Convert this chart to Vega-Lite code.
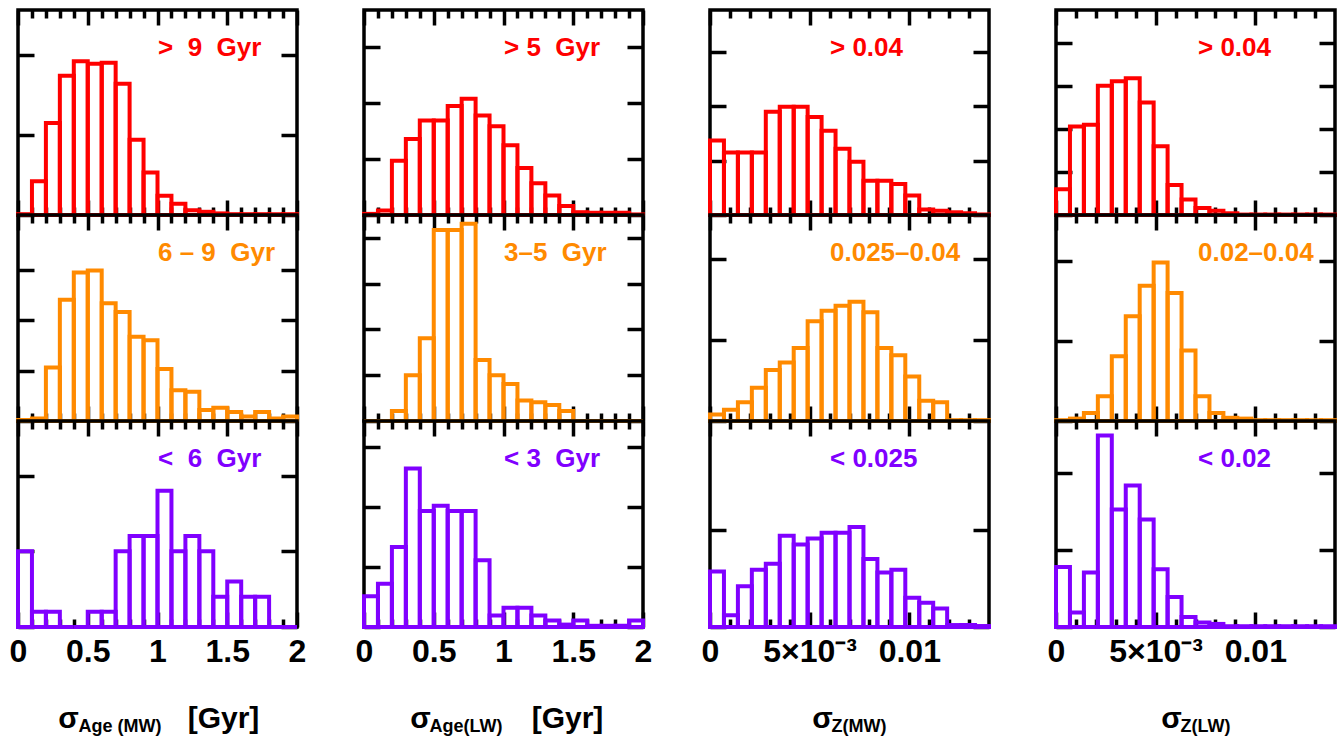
{
  "$schema": "https://vega.github.io/schema/vega-lite/v6.json",
  "background": "white",
  "padding": {"left": 7, "top": 6, "right": 5, "bottom": 2},
  "bounds": "flush",
  "columns": 4,
  "spacing": {"row": 0, "column": 67},
  "config": {
    "view": {"stroke": "black", "strokeWidth": 3.5},
    "axis": {"domain": false, "grid": false, "tickColor": "black", "tickWidth": 3.5, "labelFont": "Liberation Sans", "labelFontSize": 32, "labelFontWeight": "bold", "labelColor": "black", "labelFlush": false, "labelOverlap": false, "labelPadding": 24, "titleFont": "Liberation Sans", "titleFontWeight": "bold", "titleColor": "black", "titlePadding": 0, "zindex": 0},
    "title": {"anchor": "start", "frame": "group", "offset": 0, "baseline": "middle", "font": "Liberation Sans", "fontSize": 26, "fontWeight": "bold"}
  },
  "datasets": {
    "c1r1": [{"lo":0,"hi":0.1,"n":0.1},{"lo":0.1,"hi":0.2,"n":4.2},{"lo":0.2,"hi":0.3,"n":11.5},{"lo":0.3,"hi":0.4,"n":17.4},{"lo":0.4,"hi":0.5,"n":19.2},{"lo":0.5,"hi":0.6,"n":18.9},{"lo":0.6,"hi":0.7,"n":19},{"lo":0.7,"hi":0.8,"n":16.4},{"lo":0.8,"hi":0.9,"n":9.4},{"lo":0.9,"hi":1.0,"n":5.3},{"lo":1.0,"hi":1.1,"n":2.4},{"lo":1.1,"hi":1.2,"n":1.4},{"lo":1.2,"hi":1.3,"n":0.6},{"lo":1.3,"hi":1.4,"n":0.4},{"lo":1.4,"hi":1.5,"n":0.2},{"lo":1.5,"hi":1.6,"n":0.1},{"lo":1.6,"hi":1.7,"n":0.1},{"lo":1.7,"hi":1.8,"n":0.1},{"lo":1.8,"hi":1.9,"n":0.1},{"lo":1.9,"hi":2.0,"n":0.1}],
    "c1r2": [{"lo":0,"hi":0.1,"n":0.2},{"lo":0.1,"hi":0.2,"n":0.5},{"lo":0.2,"hi":0.3,"n":10.6},{"lo":0.3,"hi":0.4,"n":24},{"lo":0.4,"hi":0.5,"n":29.4},{"lo":0.5,"hi":0.6,"n":29.8},{"lo":0.6,"hi":0.7,"n":23.3},{"lo":0.7,"hi":0.8,"n":21.6},{"lo":0.8,"hi":0.9,"n":16.7},{"lo":0.9,"hi":1.0,"n":16},{"lo":1.0,"hi":1.1,"n":10.3},{"lo":1.1,"hi":1.2,"n":6.1},{"lo":1.2,"hi":1.3,"n":5.8},{"lo":1.3,"hi":1.4,"n":2.2},{"lo":1.4,"hi":1.5,"n":2.6},{"lo":1.5,"hi":1.6,"n":1.8},{"lo":1.6,"hi":1.7,"n":0.9},{"lo":1.7,"hi":1.8,"n":1.8},{"lo":1.8,"hi":1.9,"n":0.5},{"lo":1.9,"hi":2.0,"n":0.9}],
    "c1r3": [{"lo":0,"hi":0.1,"n":5},{"lo":0.1,"hi":0.2,"n":1},{"lo":0.2,"hi":0.3,"n":1},{"lo":0.3,"hi":0.4,"n":0},{"lo":0.4,"hi":0.5,"n":0},{"lo":0.5,"hi":0.6,"n":1},{"lo":0.6,"hi":0.7,"n":1},{"lo":0.7,"hi":0.8,"n":5},{"lo":0.8,"hi":0.9,"n":6},{"lo":0.9,"hi":1.0,"n":6},{"lo":1.0,"hi":1.1,"n":9},{"lo":1.1,"hi":1.2,"n":5},{"lo":1.2,"hi":1.3,"n":6},{"lo":1.3,"hi":1.4,"n":5},{"lo":1.4,"hi":1.5,"n":2},{"lo":1.5,"hi":1.6,"n":3},{"lo":1.6,"hi":1.7,"n":2},{"lo":1.7,"hi":1.8,"n":2},{"lo":1.8,"hi":1.9,"n":0},{"lo":1.9,"hi":2.0,"n":0}],
    "c2r1": [{"lo":0,"hi":0.1,"n":0.2},{"lo":0.1,"hi":0.2,"n":0.8},{"lo":0.2,"hi":0.3,"n":9.7},{"lo":0.3,"hi":0.4,"n":13.6},{"lo":0.4,"hi":0.5,"n":16.9},{"lo":0.5,"hi":0.6,"n":16.9},{"lo":0.6,"hi":0.7,"n":19.5},{"lo":0.7,"hi":0.8,"n":20.8},{"lo":0.8,"hi":0.9,"n":17.8},{"lo":0.9,"hi":1.0,"n":15.9},{"lo":1.0,"hi":1.1,"n":12.5},{"lo":1.1,"hi":1.2,"n":8.4},{"lo":1.2,"hi":1.3,"n":5.7},{"lo":1.3,"hi":1.4,"n":3.5},{"lo":1.4,"hi":1.5,"n":1.6},{"lo":1.5,"hi":1.6,"n":0.5},{"lo":1.6,"hi":1.7,"n":0.4},{"lo":1.7,"hi":1.8,"n":0.4},{"lo":1.8,"hi":1.9,"n":0.4},{"lo":1.9,"hi":2.0,"n":0.1}],
    "c2r2": [{"lo":0,"hi":0.1,"n":0},{"lo":0.1,"hi":0.2,"n":0},{"lo":0.2,"hi":0.3,"n":2.2},{"lo":0.3,"hi":0.4,"n":10},{"lo":0.4,"hi":0.5,"n":18.1},{"lo":0.5,"hi":0.6,"n":41.7},{"lo":0.6,"hi":0.7,"n":41.7},{"lo":0.7,"hi":0.8,"n":43.1},{"lo":0.8,"hi":0.9,"n":13.3},{"lo":0.9,"hi":1.0,"n":10},{"lo":1.0,"hi":1.1,"n":8.1},{"lo":1.1,"hi":1.2,"n":4.5},{"lo":1.2,"hi":1.3,"n":4.1},{"lo":1.3,"hi":1.4,"n":3.5},{"lo":1.4,"hi":1.5,"n":2.2},{"lo":1.5,"hi":1.6,"n":0},{"lo":1.6,"hi":1.7,"n":0},{"lo":1.7,"hi":1.8,"n":0},{"lo":1.8,"hi":1.9,"n":0},{"lo":1.9,"hi":2.0,"n":0}],
    "c2r3": [{"lo":0,"hi":0.1,"n":5.1},{"lo":0.1,"hi":0.2,"n":7.2},{"lo":0.2,"hi":0.3,"n":13.3},{"lo":0.3,"hi":0.4,"n":26.4},{"lo":0.4,"hi":0.5,"n":19.3},{"lo":0.5,"hi":0.6,"n":20.2},{"lo":0.6,"hi":0.7,"n":19.3},{"lo":0.7,"hi":0.8,"n":19.3},{"lo":0.8,"hi":0.9,"n":11.1},{"lo":0.9,"hi":1.0,"n":1.9},{"lo":1.0,"hi":1.1,"n":3.2},{"lo":1.1,"hi":1.2,"n":3.2},{"lo":1.2,"hi":1.3,"n":1.9},{"lo":1.3,"hi":1.4,"n":1.1},{"lo":1.4,"hi":1.5,"n":0.4},{"lo":1.5,"hi":1.6,"n":1.1},{"lo":1.6,"hi":1.7,"n":0.2},{"lo":1.7,"hi":1.8,"n":0.2},{"lo":1.8,"hi":1.9,"n":0.2},{"lo":1.9,"hi":2.0,"n":1.1}],
    "c3r1": [{"lo":0,"hi":0.0007,"n":13.7},{"lo":0.0007,"hi":0.0014,"n":11.5},{"lo":0.0014,"hi":0.0021,"n":11.5},{"lo":0.0021,"hi":0.0028,"n":11.5},{"lo":0.0028,"hi":0.0035,"n":19},{"lo":0.0035,"hi":0.0042,"n":19.9},{"lo":0.0042,"hi":0.0049,"n":19.9},{"lo":0.0049,"hi":0.0056,"n":18},{"lo":0.0056,"hi":0.0063,"n":15.5},{"lo":0.0063,"hi":0.007,"n":12.2},{"lo":0.007,"hi":0.0077,"n":9.8},{"lo":0.0077,"hi":0.0084,"n":6.3},{"lo":0.0084,"hi":0.0091,"n":6.3},{"lo":0.0091,"hi":0.0098,"n":5.7},{"lo":0.0098,"hi":0.0105,"n":3.6},{"lo":0.0105,"hi":0.0112,"n":1},{"lo":0.0112,"hi":0.0119,"n":0.8},{"lo":0.0119,"hi":0.0126,"n":0.5},{"lo":0.0126,"hi":0.0133,"n":0.3},{"lo":0.0133,"hi":0.014,"n":0.1}],
    "c3r2": [{"lo":0,"hi":0.0007,"n":0.8},{"lo":0.0007,"hi":0.0014,"n":1.4},{"lo":0.0014,"hi":0.0021,"n":2.3},{"lo":0.0021,"hi":0.0028,"n":4.1},{"lo":0.0028,"hi":0.0035,"n":6.3},{"lo":0.0035,"hi":0.0042,"n":7.2},{"lo":0.0042,"hi":0.0049,"n":9},{"lo":0.0049,"hi":0.0056,"n":12.3},{"lo":0.0056,"hi":0.0063,"n":13.6},{"lo":0.0063,"hi":0.007,"n":14.2},{"lo":0.007,"hi":0.0077,"n":14.7},{"lo":0.0077,"hi":0.0084,"n":13.4},{"lo":0.0084,"hi":0.0091,"n":9},{"lo":0.0091,"hi":0.0098,"n":8.1},{"lo":0.0098,"hi":0.0105,"n":5.5},{"lo":0.0105,"hi":0.0112,"n":2.5},{"lo":0.0112,"hi":0.0119,"n":2.3},{"lo":0.0119,"hi":0.0126,"n":0.1},{"lo":0.0126,"hi":0.0133,"n":0.1},{"lo":0.0133,"hi":0.014,"n":0.1}],
    "c3r3": [{"lo":0,"hi":0.0007,"n":5.7},{"lo":0.0007,"hi":0.0014,"n":1.2},{"lo":0.0014,"hi":0.0021,"n":4.2},{"lo":0.0021,"hi":0.0028,"n":5.9},{"lo":0.0028,"hi":0.0035,"n":6.5},{"lo":0.0035,"hi":0.0042,"n":9.4},{"lo":0.0042,"hi":0.0049,"n":8.5},{"lo":0.0049,"hi":0.0056,"n":9.1},{"lo":0.0056,"hi":0.0063,"n":9.7},{"lo":0.0063,"hi":0.007,"n":9.7},{"lo":0.007,"hi":0.0077,"n":10.3},{"lo":0.0077,"hi":0.0084,"n":7},{"lo":0.0084,"hi":0.0091,"n":5.6},{"lo":0.0091,"hi":0.0098,"n":5.9},{"lo":0.0098,"hi":0.0105,"n":3},{"lo":0.0105,"hi":0.0112,"n":2.5},{"lo":0.0112,"hi":0.0119,"n":1.9},{"lo":0.0119,"hi":0.0126,"n":0.2},{"lo":0.0126,"hi":0.0133,"n":0.2},{"lo":0.0133,"hi":0.014,"n":0.1}],
    "c4r1": [{"lo":0,"hi":0.0007,"n":6},{"lo":0.0007,"hi":0.0014,"n":20.6},{"lo":0.0014,"hi":0.0021,"n":21},{"lo":0.0021,"hi":0.0028,"n":30.1},{"lo":0.0028,"hi":0.0035,"n":31.1},{"lo":0.0035,"hi":0.0042,"n":31.8},{"lo":0.0042,"hi":0.0049,"n":26.2},{"lo":0.0049,"hi":0.0056,"n":16},{"lo":0.0056,"hi":0.0063,"n":7},{"lo":0.0063,"hi":0.007,"n":3.6},{"lo":0.007,"hi":0.0077,"n":1.6},{"lo":0.0077,"hi":0.0084,"n":1},{"lo":0.0084,"hi":0.0091,"n":0.4},{"lo":0.0091,"hi":0.0098,"n":0.1},{"lo":0.0098,"hi":0.0105,"n":0.1},{"lo":0.0105,"hi":0.0112,"n":0.1},{"lo":0.0112,"hi":0.0119,"n":0.1},{"lo":0.0119,"hi":0.0126,"n":0.1},{"lo":0.0126,"hi":0.0133,"n":0.1},{"lo":0.0133,"hi":0.014,"n":0.1}],
    "c4r2": [{"lo":0,"hi":0.0007,"n":0.1},{"lo":0.0007,"hi":0.0014,"n":0.3},{"lo":0.0014,"hi":0.0021,"n":1},{"lo":0.0021,"hi":0.0028,"n":3.1},{"lo":0.0028,"hi":0.0035,"n":8.1},{"lo":0.0035,"hi":0.0042,"n":13.1},{"lo":0.0042,"hi":0.0049,"n":16.9},{"lo":0.0049,"hi":0.0056,"n":19.8},{"lo":0.0056,"hi":0.0063,"n":16},{"lo":0.0063,"hi":0.007,"n":8.8},{"lo":0.007,"hi":0.0077,"n":3.1},{"lo":0.0077,"hi":0.0084,"n":1},{"lo":0.0084,"hi":0.0091,"n":0.4},{"lo":0.0091,"hi":0.0098,"n":0.3},{"lo":0.0098,"hi":0.0105,"n":0.1},{"lo":0.0105,"hi":0.0112,"n":0.1},{"lo":0.0112,"hi":0.0119,"n":0.1},{"lo":0.0119,"hi":0.0126,"n":0.1},{"lo":0.0126,"hi":0.0133,"n":0.1},{"lo":0.0133,"hi":0.014,"n":0.1}],
    "c4r3": [{"lo":0,"hi":0.0007,"n":7.8},{"lo":0.0007,"hi":0.0014,"n":1.9},{"lo":0.0014,"hi":0.0021,"n":7.1},{"lo":0.0021,"hi":0.0028,"n":24.9},{"lo":0.0028,"hi":0.0035,"n":15.3},{"lo":0.0035,"hi":0.0042,"n":18.4},{"lo":0.0042,"hi":0.0049,"n":14},{"lo":0.0049,"hi":0.0056,"n":7.5},{"lo":0.0056,"hi":0.0063,"n":3.9},{"lo":0.0063,"hi":0.007,"n":1.3},{"lo":0.007,"hi":0.0077,"n":0.6},{"lo":0.0077,"hi":0.0084,"n":0.4},{"lo":0.0084,"hi":0.0091,"n":0.1},{"lo":0.0091,"hi":0.0098,"n":0.1},{"lo":0.0098,"hi":0.0105,"n":0.1},{"lo":0.0105,"hi":0.0112,"n":0.1},{"lo":0.0112,"hi":0.0119,"n":0.1},{"lo":0.0119,"hi":0.0126,"n":0.1},{"lo":0.0126,"hi":0.0133,"n":0.1},{"lo":0.0133,"hi":0.014,"n":0.1}]
  },
  "concat": [
    {"width": 279, "height": 205, "title": {"text": ">\u00a0\u00a09\u00a0\u00a0Gyr", "color": "#ff0000", "dx": 140, "dy": 57}, "data": {"name": "c1r1"},
     "layer": [
      {"mark": {"type": "bar", "filled": false, "stroke": "#ff0000", "strokeWidth": 4},
       "encoding": {
        "x": {"field": "lo", "type": "quantitative", "scale": {"domain": [0, 2], "nice": false}, "axis": {"orient": "bottom", "values": [0,0.1,0.2,0.3,0.4,0.5,0.6,0.7,0.8,0.9,1,1.1,1.2,1.3,1.4,1.5,1.6,1.7,1.8,1.9,2], "labels": false, "tickSize": {"condition": {"test": "indexof([0,0.5,1,1.5,2], datum.value) >= 0", "value": -15}, "value": -8}, "title": null}},
        "x2": {"field": "hi"},
        "y": {"field": "n", "type": "quantitative", "scale": {"domain": [0, 25.6], "nice": false}, "axis": {"orient": "left", "values": [0, 10, 20], "labels": false, "tickSize": -16, "title": null}},
        "y2": {"datum": 0}}},
      {"mark": {"type": "point", "opacity": 0},
       "encoding": {
        "x": {"field": "lo", "type": "quantitative", "scale": {"domain": [0, 2], "nice": false}, "axis": {"orient": "top", "values": [0,0.1,0.2,0.3,0.4,0.5,0.6,0.7,0.8,0.9,1,1.1,1.2,1.3,1.4,1.5,1.6,1.7,1.8,1.9,2], "labels": false, "tickSize": {"condition": {"test": "indexof([0,0.5,1,1.5,2], datum.value) >= 0", "value": -15}, "value": -8}, "title": null}},
        "y": {"field": "n", "type": "quantitative", "scale": {"domain": [0, 25.6], "nice": false}, "axis": {"orient": "right", "values": [0, 10, 20], "labels": false, "tickSize": -16, "title": null}}}}
     ],
     "resolve": {"axis": {"x": "independent", "y": "independent"}}},
    {"width": 279, "height": 205, "title": {"text": ">\u00a05\u00a0\u00a0Gyr", "color": "#ff0000", "dx": 140, "dy": 57}, "data": {"name": "c2r1"},
     "layer": [
      {"mark": {"type": "bar", "filled": false, "stroke": "#ff0000", "strokeWidth": 4},
       "encoding": {
        "x": {"field": "lo", "type": "quantitative", "scale": {"domain": [0, 2], "nice": false}, "axis": {"orient": "bottom", "values": [0,0.1,0.2,0.3,0.4,0.5,0.6,0.7,0.8,0.9,1,1.1,1.2,1.3,1.4,1.5,1.6,1.7,1.8,1.9,2], "labels": false, "tickSize": {"condition": {"test": "indexof([0,0.5,1,1.5,2], datum.value) >= 0", "value": -15}, "value": -8}, "title": null}},
        "x2": {"field": "hi"},
        "y": {"field": "n", "type": "quantitative", "scale": {"domain": [0, 36.7], "nice": false}, "axis": {"orient": "left", "values": [0, 10, 20, 30], "labels": false, "tickSize": -16, "title": null}},
        "y2": {"datum": 0}}},
      {"mark": {"type": "point", "opacity": 0},
       "encoding": {
        "x": {"field": "lo", "type": "quantitative", "scale": {"domain": [0, 2], "nice": false}, "axis": {"orient": "top", "values": [0,0.1,0.2,0.3,0.4,0.5,0.6,0.7,0.8,0.9,1,1.1,1.2,1.3,1.4,1.5,1.6,1.7,1.8,1.9,2], "labels": false, "tickSize": {"condition": {"test": "indexof([0,0.5,1,1.5,2], datum.value) >= 0", "value": -15}, "value": -8}, "title": null}},
        "y": {"field": "n", "type": "quantitative", "scale": {"domain": [0, 36.7], "nice": false}, "axis": {"orient": "right", "values": [0, 10, 20, 30], "labels": false, "tickSize": -16, "title": null}}}}
     ],
     "resolve": {"axis": {"x": "independent", "y": "independent"}}},
    {"width": 279, "height": 205, "title": {"text": ">\u00a00.04", "color": "#ff0000", "dx": 120, "dy": 57}, "data": {"name": "c3r1"},
     "layer": [
      {"mark": {"type": "bar", "filled": false, "stroke": "#ff0000", "strokeWidth": 4},
       "encoding": {
        "x": {"field": "lo", "type": "quantitative", "scale": {"domain": [0, 0.014], "nice": false}, "axis": {"orient": "bottom", "values": [0,0.001,0.002,0.003,0.004,0.005,0.006,0.007,0.008,0.009,0.01,0.011,0.012,0.013], "labels": false, "tickSize": {"condition": {"test": "indexof([0,0.005,0.01], datum.value) >= 0", "value": -15}, "value": -8}, "title": null}},
        "x2": {"field": "hi"},
        "y": {"field": "n", "type": "quantitative", "scale": {"domain": [0, 37.7], "nice": false}, "axis": {"orient": "left", "values": [0, 10, 20, 30], "labels": false, "tickSize": -16, "title": null}},
        "y2": {"datum": 0}}},
      {"mark": {"type": "point", "opacity": 0},
       "encoding": {
        "x": {"field": "lo", "type": "quantitative", "scale": {"domain": [0, 0.014], "nice": false}, "axis": {"orient": "top", "values": [0,0.001,0.002,0.003,0.004,0.005,0.006,0.007,0.008,0.009,0.01,0.011,0.012,0.013], "labels": false, "tickSize": {"condition": {"test": "indexof([0,0.005,0.01], datum.value) >= 0", "value": -15}, "value": -8}, "title": null}},
        "y": {"field": "n", "type": "quantitative", "scale": {"domain": [0, 37.7], "nice": false}, "axis": {"orient": "right", "values": [0, 10, 20, 30], "labels": false, "tickSize": -16, "title": null}}}}
     ],
     "resolve": {"axis": {"x": "independent", "y": "independent"}}},
    {"width": 279, "height": 205, "title": {"text": ">\u00a00.04", "color": "#ff0000", "dx": 142, "dy": 57}, "data": {"name": "c4r1"},
     "layer": [
      {"mark": {"type": "bar", "filled": false, "stroke": "#ff0000", "strokeWidth": 4},
       "encoding": {
        "x": {"field": "lo", "type": "quantitative", "scale": {"domain": [0, 0.014], "nice": false}, "axis": {"orient": "bottom", "values": [0,0.001,0.002,0.003,0.004,0.005,0.006,0.007,0.008,0.009,0.01,0.011,0.012,0.013], "labels": false, "tickSize": {"condition": {"test": "indexof([0,0.005,0.01], datum.value) >= 0", "value": -15}, "value": -8}, "title": null}},
        "x2": {"field": "hi"},
        "y": {"field": "n", "type": "quantitative", "scale": {"domain": [0, 47.7], "nice": false}, "axis": {"orient": "left", "values": [0, 10, 20, 30, 40], "labels": false, "tickSize": -16, "title": null}},
        "y2": {"datum": 0}}},
      {"mark": {"type": "point", "opacity": 0},
       "encoding": {
        "x": {"field": "lo", "type": "quantitative", "scale": {"domain": [0, 0.014], "nice": false}, "axis": {"orient": "top", "values": [0,0.001,0.002,0.003,0.004,0.005,0.006,0.007,0.008,0.009,0.01,0.011,0.012,0.013], "labels": false, "tickSize": {"condition": {"test": "indexof([0,0.005,0.01], datum.value) >= 0", "value": -15}, "value": -8}, "title": null}},
        "y": {"field": "n", "type": "quantitative", "scale": {"domain": [0, 47.7], "nice": false}, "axis": {"orient": "right", "values": [0, 10, 20, 30, 40], "labels": false, "tickSize": -16, "title": null}}}}
     ],
     "resolve": {"axis": {"x": "independent", "y": "independent"}}},
    {"width": 279, "height": 206, "title": {"text": "6\u00a0–\u00a09\u00a0\u00a0Gyr", "color": "#ff8a00", "dx": 140, "dy": 57}, "data": {"name": "c1r2"},
     "layer": [
      {"mark": {"type": "bar", "filled": false, "stroke": "#ff8a00", "strokeWidth": 4},
       "encoding": {
        "x": {"field": "lo", "type": "quantitative", "scale": {"domain": [0, 2], "nice": false}, "axis": {"orient": "bottom", "values": [0,0.1,0.2,0.3,0.4,0.5,0.6,0.7,0.8,0.9,1,1.1,1.2,1.3,1.4,1.5,1.6,1.7,1.8,1.9,2], "labels": false, "tickSize": {"condition": {"test": "indexof([0,0.5,1,1.5,2], datum.value) >= 0", "value": -15}, "value": -8}, "title": null}},
        "x2": {"field": "hi"},
        "y": {"field": "n", "type": "quantitative", "scale": {"domain": [0, 40.8], "nice": false}, "axis": {"orient": "left", "values": [0, 10, 20, 30], "labels": false, "tickSize": -16, "title": null}},
        "y2": {"datum": 0}}},
      {"mark": {"type": "point", "opacity": 0},
       "encoding": {
        "x": {"field": "lo", "type": "quantitative", "scale": {"domain": [0, 2], "nice": false}, "axis": {"orient": "top", "values": [0,0.1,0.2,0.3,0.4,0.5,0.6,0.7,0.8,0.9,1,1.1,1.2,1.3,1.4,1.5,1.6,1.7,1.8,1.9,2], "labels": false, "tickSize": {"condition": {"test": "indexof([0,0.5,1,1.5,2], datum.value) >= 0", "value": -15}, "value": -8}, "title": null}},
        "y": {"field": "n", "type": "quantitative", "scale": {"domain": [0, 40.8], "nice": false}, "axis": {"orient": "right", "values": [0, 10, 20, 30], "labels": false, "tickSize": -16, "title": null}}}}
     ],
     "resolve": {"axis": {"x": "independent", "y": "independent"}}},
    {"width": 279, "height": 206, "title": {"text": "3–5\u00a0\u00a0Gyr", "color": "#ff8a00", "dx": 140, "dy": 57}, "data": {"name": "c2r2"},
     "layer": [
      {"mark": {"type": "bar", "filled": false, "stroke": "#ff8a00", "strokeWidth": 4},
       "encoding": {
        "x": {"field": "lo", "type": "quantitative", "scale": {"domain": [0, 2], "nice": false}, "axis": {"orient": "bottom", "values": [0,0.1,0.2,0.3,0.4,0.5,0.6,0.7,0.8,0.9,1,1.1,1.2,1.3,1.4,1.5,1.6,1.7,1.8,1.9,2], "labels": false, "tickSize": {"condition": {"test": "indexof([0,0.5,1,1.5,2], datum.value) >= 0", "value": -15}, "value": -8}, "title": null}},
        "x2": {"field": "hi"},
        "y": {"field": "n", "type": "quantitative", "scale": {"domain": [0, 45], "nice": false}, "axis": {"orient": "left", "values": [0, 10, 20, 30, 40], "labels": false, "tickSize": -16, "title": null}},
        "y2": {"datum": 0}}},
      {"mark": {"type": "point", "opacity": 0},
       "encoding": {
        "x": {"field": "lo", "type": "quantitative", "scale": {"domain": [0, 2], "nice": false}, "axis": {"orient": "top", "values": [0,0.1,0.2,0.3,0.4,0.5,0.6,0.7,0.8,0.9,1,1.1,1.2,1.3,1.4,1.5,1.6,1.7,1.8,1.9,2], "labels": false, "tickSize": {"condition": {"test": "indexof([0,0.5,1,1.5,2], datum.value) >= 0", "value": -15}, "value": -8}, "title": null}},
        "y": {"field": "n", "type": "quantitative", "scale": {"domain": [0, 45], "nice": false}, "axis": {"orient": "right", "values": [0, 10, 20, 30, 40], "labels": false, "tickSize": -16, "title": null}}}}
     ],
     "resolve": {"axis": {"x": "independent", "y": "independent"}}},
    {"width": 279, "height": 206, "title": {"text": "0.025–0.04", "color": "#ff8a00", "dx": 120, "dy": 57}, "data": {"name": "c3r2"},
     "layer": [
      {"mark": {"type": "bar", "filled": false, "stroke": "#ff8a00", "strokeWidth": 4},
       "encoding": {
        "x": {"field": "lo", "type": "quantitative", "scale": {"domain": [0, 0.014], "nice": false}, "axis": {"orient": "bottom", "values": [0,0.001,0.002,0.003,0.004,0.005,0.006,0.007,0.008,0.009,0.01,0.011,0.012,0.013], "labels": false, "tickSize": {"condition": {"test": "indexof([0,0.005,0.01], datum.value) >= 0", "value": -15}, "value": -8}, "title": null}},
        "x2": {"field": "hi"},
        "y": {"field": "n", "type": "quantitative", "scale": {"domain": [0, 25.4], "nice": false}, "axis": {"orient": "left", "values": [0, 10, 20], "labels": false, "tickSize": -16, "title": null}},
        "y2": {"datum": 0}}},
      {"mark": {"type": "point", "opacity": 0},
       "encoding": {
        "x": {"field": "lo", "type": "quantitative", "scale": {"domain": [0, 0.014], "nice": false}, "axis": {"orient": "top", "values": [0,0.001,0.002,0.003,0.004,0.005,0.006,0.007,0.008,0.009,0.01,0.011,0.012,0.013], "labels": false, "tickSize": {"condition": {"test": "indexof([0,0.005,0.01], datum.value) >= 0", "value": -15}, "value": -8}, "title": null}},
        "y": {"field": "n", "type": "quantitative", "scale": {"domain": [0, 25.4], "nice": false}, "axis": {"orient": "right", "values": [0, 10, 20], "labels": false, "tickSize": -16, "title": null}}}}
     ],
     "resolve": {"axis": {"x": "independent", "y": "independent"}}},
    {"width": 279, "height": 206, "title": {"text": "0.02–0.04", "color": "#ff8a00", "dx": 142, "dy": 57}, "data": {"name": "c4r2"},
     "layer": [
      {"mark": {"type": "bar", "filled": false, "stroke": "#ff8a00", "strokeWidth": 4},
       "encoding": {
        "x": {"field": "lo", "type": "quantitative", "scale": {"domain": [0, 0.014], "nice": false}, "axis": {"orient": "bottom", "values": [0,0.001,0.002,0.003,0.004,0.005,0.006,0.007,0.008,0.009,0.01,0.011,0.012,0.013], "labels": false, "tickSize": {"condition": {"test": "indexof([0,0.005,0.01], datum.value) >= 0", "value": -15}, "value": -8}, "title": null}},
        "x2": {"field": "hi"},
        "y": {"field": "n", "type": "quantitative", "scale": {"domain": [0, 25.75], "nice": false}, "axis": {"orient": "left", "values": [0, 10, 20], "labels": false, "tickSize": -16, "title": null}},
        "y2": {"datum": 0}}},
      {"mark": {"type": "point", "opacity": 0},
       "encoding": {
        "x": {"field": "lo", "type": "quantitative", "scale": {"domain": [0, 0.014], "nice": false}, "axis": {"orient": "top", "values": [0,0.001,0.002,0.003,0.004,0.005,0.006,0.007,0.008,0.009,0.01,0.011,0.012,0.013], "labels": false, "tickSize": {"condition": {"test": "indexof([0,0.005,0.01], datum.value) >= 0", "value": -15}, "value": -8}, "title": null}},
        "y": {"field": "n", "type": "quantitative", "scale": {"domain": [0, 25.75], "nice": false}, "axis": {"orient": "right", "values": [0, 10, 20], "labels": false, "tickSize": -16, "title": null}}}}
     ],
     "resolve": {"axis": {"x": "independent", "y": "independent"}}},
    {"width": 279, "height": 206, "title": {"text": "<\u00a0\u00a06\u00a0\u00a0Gyr", "color": "#8000ff", "dx": 140, "dy": 57}, "data": {"name": "c1r3"},
     "layer": [
      {"mark": {"type": "bar", "filled": false, "stroke": "#8000ff", "strokeWidth": 4},
       "encoding": {
        "x": {"field": "lo", "type": "quantitative", "scale": {"domain": [0, 2], "nice": false}, "axis": {"orient": "bottom", "values": [0,0.1,0.2,0.3,0.4,0.5,0.6,0.7,0.8,0.9,1,1.1,1.2,1.3,1.4,1.5,1.6,1.7,1.8,1.9,2], "labelExpr": "indexof([0,0.5,1,1.5,2], datum.value) >= 0 ? format(datum.value, '') : ''", "tickSize": {"condition": {"test": "indexof([0,0.5,1,1.5,2], datum.value) >= 0", "value": -15}, "value": -8}, "title": "σ", "titleX": 50, "titleY": 91, "titleFontSize": 30, "titleAlign": "center", "titleBaseline": "middle"}},
        "x2": {"field": "hi"},
        "y": {"field": "n", "type": "quantitative", "scale": {"domain": [0, 13.6], "nice": false}, "axis": {"orient": "left", "values": [0, 5, 10], "labels": false, "tickSize": -16, "title": "[Gyr]", "titleAngle": 0, "titleX": 205, "titleY": 297, "titleFontSize": 30, "titleAlign": "center", "titleBaseline": "middle"}},
        "y2": {"datum": 0}}},
      {"mark": {"type": "point", "opacity": 0},
       "encoding": {
        "x": {"field": "lo", "type": "quantitative", "scale": {"domain": [0, 2], "nice": false}, "axis": {"orient": "top", "values": [0,0.1,0.2,0.3,0.4,0.5,0.6,0.7,0.8,0.9,1,1.1,1.2,1.3,1.4,1.5,1.6,1.7,1.8,1.9,2], "labels": false, "tickSize": {"condition": {"test": "indexof([0,0.5,1,1.5,2], datum.value) >= 0", "value": -15}, "value": -8}, "title": "Age (MW)", "titleX": 60, "titleY": 305, "titleFontSize": 18, "titleAlign": "left", "titleBaseline": "middle"}},
        "y": {"field": "n", "type": "quantitative", "scale": {"domain": [0, 13.6], "nice": false}, "axis": {"orient": "right", "values": [0, 5, 10], "labels": false, "tickSize": -16, "title": null}}}}
     ],
     "resolve": {"axis": {"x": "independent", "y": "independent"}}},
    {"width": 279, "height": 206, "title": {"text": "<\u00a03\u00a0\u00a0Gyr", "color": "#8000ff", "dx": 140, "dy": 57}, "data": {"name": "c2r3"},
     "layer": [
      {"mark": {"type": "bar", "filled": false, "stroke": "#8000ff", "strokeWidth": 4},
       "encoding": {
        "x": {"field": "lo", "type": "quantitative", "scale": {"domain": [0, 2], "nice": false}, "axis": {"orient": "bottom", "values": [0,0.1,0.2,0.3,0.4,0.5,0.6,0.7,0.8,0.9,1,1.1,1.2,1.3,1.4,1.5,1.6,1.7,1.8,1.9,2], "labelExpr": "indexof([0,0.5,1,1.5,2], datum.value) >= 0 ? format(datum.value, '') : ''", "tickSize": {"condition": {"test": "indexof([0,0.5,1,1.5,2], datum.value) >= 0", "value": -15}, "value": -8}, "title": "σ", "titleX": 56, "titleY": 91, "titleFontSize": 30, "titleAlign": "center", "titleBaseline": "middle"}},
        "x2": {"field": "hi"},
        "y": {"field": "n", "type": "quantitative", "scale": {"domain": [0, 34.3], "nice": false}, "axis": {"orient": "left", "values": [0, 10, 20, 30], "labels": false, "tickSize": -16, "title": "[Gyr]", "titleAngle": 0, "titleX": 203, "titleY": 297, "titleFontSize": 30, "titleAlign": "center", "titleBaseline": "middle"}},
        "y2": {"datum": 0}}},
      {"mark": {"type": "point", "opacity": 0},
       "encoding": {
        "x": {"field": "lo", "type": "quantitative", "scale": {"domain": [0, 2], "nice": false}, "axis": {"orient": "top", "values": [0,0.1,0.2,0.3,0.4,0.5,0.6,0.7,0.8,0.9,1,1.1,1.2,1.3,1.4,1.5,1.6,1.7,1.8,1.9,2], "labels": false, "tickSize": {"condition": {"test": "indexof([0,0.5,1,1.5,2], datum.value) >= 0", "value": -15}, "value": -8}, "title": "Age(LW)", "titleX": 65, "titleY": 305, "titleFontSize": 18, "titleAlign": "left", "titleBaseline": "middle"}},
        "y": {"field": "n", "type": "quantitative", "scale": {"domain": [0, 34.3], "nice": false}, "axis": {"orient": "right", "values": [0, 10, 20, 30], "labels": false, "tickSize": -16, "title": null}}}}
     ],
     "resolve": {"axis": {"x": "independent", "y": "independent"}}},
    {"width": 279, "height": 206, "title": {"text": "<\u00a00.025", "color": "#8000ff", "dx": 120, "dy": 57}, "data": {"name": "c3r3"},
     "layer": [
      {"mark": {"type": "bar", "filled": false, "stroke": "#8000ff", "strokeWidth": 4},
       "encoding": {
        "x": {"field": "lo", "type": "quantitative", "scale": {"domain": [0, 0.014], "nice": false}, "axis": {"orient": "bottom", "values": [0,0.001,0.002,0.003,0.004,0.005,0.006,0.007,0.008,0.009,0.01,0.011,0.012,0.013], "labelExpr": "datum.value === 0 ? '0' : datum.value === 0.005 ? '5×10⁻³' : datum.value === 0.01 ? '0.01' : ''", "tickSize": {"condition": {"test": "indexof([0,0.005,0.01], datum.value) >= 0", "value": -15}, "value": -8}, "title": "σ", "titleX": 112, "titleY": 91, "titleFontSize": 30, "titleAlign": "center", "titleBaseline": "middle"}},
        "x2": {"field": "hi"},
        "y": {"field": "n", "type": "quantitative", "scale": {"domain": [0, 21.2], "nice": false}, "axis": {"orient": "left", "values": [0, 10], "labels": false, "tickSize": -16, "title": null}},
        "y2": {"datum": 0}}},
      {"mark": {"type": "point", "opacity": 0},
       "encoding": {
        "x": {"field": "lo", "type": "quantitative", "scale": {"domain": [0, 0.014], "nice": false}, "axis": {"orient": "top", "values": [0,0.001,0.002,0.003,0.004,0.005,0.006,0.007,0.008,0.009,0.01,0.011,0.012,0.013], "labels": false, "tickSize": {"condition": {"test": "indexof([0,0.005,0.01], datum.value) >= 0", "value": -15}, "value": -8}, "title": "Z(MW)", "titleX": 121, "titleY": 305, "titleFontSize": 18, "titleAlign": "left", "titleBaseline": "middle"}},
        "y": {"field": "n", "type": "quantitative", "scale": {"domain": [0, 21.2], "nice": false}, "axis": {"orient": "right", "values": [0, 10], "labels": false, "tickSize": -16, "title": null}}}}
     ],
     "resolve": {"axis": {"x": "independent", "y": "independent"}}},
    {"width": 279, "height": 206, "title": {"text": "<\u00a00.02", "color": "#8000ff", "dx": 142, "dy": 57}, "data": {"name": "c4r3"},
     "layer": [
      {"mark": {"type": "bar", "filled": false, "stroke": "#8000ff", "strokeWidth": 4},
       "encoding": {
        "x": {"field": "lo", "type": "quantitative", "scale": {"domain": [0, 0.014], "nice": false}, "axis": {"orient": "bottom", "values": [0,0.001,0.002,0.003,0.004,0.005,0.006,0.007,0.008,0.009,0.01,0.011,0.012,0.013], "labelExpr": "datum.value === 0 ? '0' : datum.value === 0.005 ? '5×10⁻³' : datum.value === 0.01 ? '0.01' : ''", "tickSize": {"condition": {"test": "indexof([0,0.005,0.01], datum.value) >= 0", "value": -15}, "value": -8}, "title": "σ", "titleX": 115, "titleY": 91, "titleFontSize": 30, "titleAlign": "center", "titleBaseline": "middle"}},
        "x2": {"field": "hi"},
        "y": {"field": "n", "type": "quantitative", "scale": {"domain": [0, 26.8], "nice": false}, "axis": {"orient": "left", "values": [0, 10, 20], "labels": false, "tickSize": -16, "title": null}},
        "y2": {"datum": 0}}},
      {"mark": {"type": "point", "opacity": 0},
       "encoding": {
        "x": {"field": "lo", "type": "quantitative", "scale": {"domain": [0, 0.014], "nice": false}, "axis": {"orient": "top", "values": [0,0.001,0.002,0.003,0.004,0.005,0.006,0.007,0.008,0.009,0.01,0.011,0.012,0.013], "labels": false, "tickSize": {"condition": {"test": "indexof([0,0.005,0.01], datum.value) >= 0", "value": -15}, "value": -8}, "title": "Z(LW)", "titleX": 124, "titleY": 305, "titleFontSize": 18, "titleAlign": "left", "titleBaseline": "middle"}},
        "y": {"field": "n", "type": "quantitative", "scale": {"domain": [0, 26.8], "nice": false}, "axis": {"orient": "right", "values": [0, 10, 20], "labels": false, "tickSize": -16, "title": null}}}}
     ],
     "resolve": {"axis": {"x": "independent", "y": "independent"}}}
  ]
}
